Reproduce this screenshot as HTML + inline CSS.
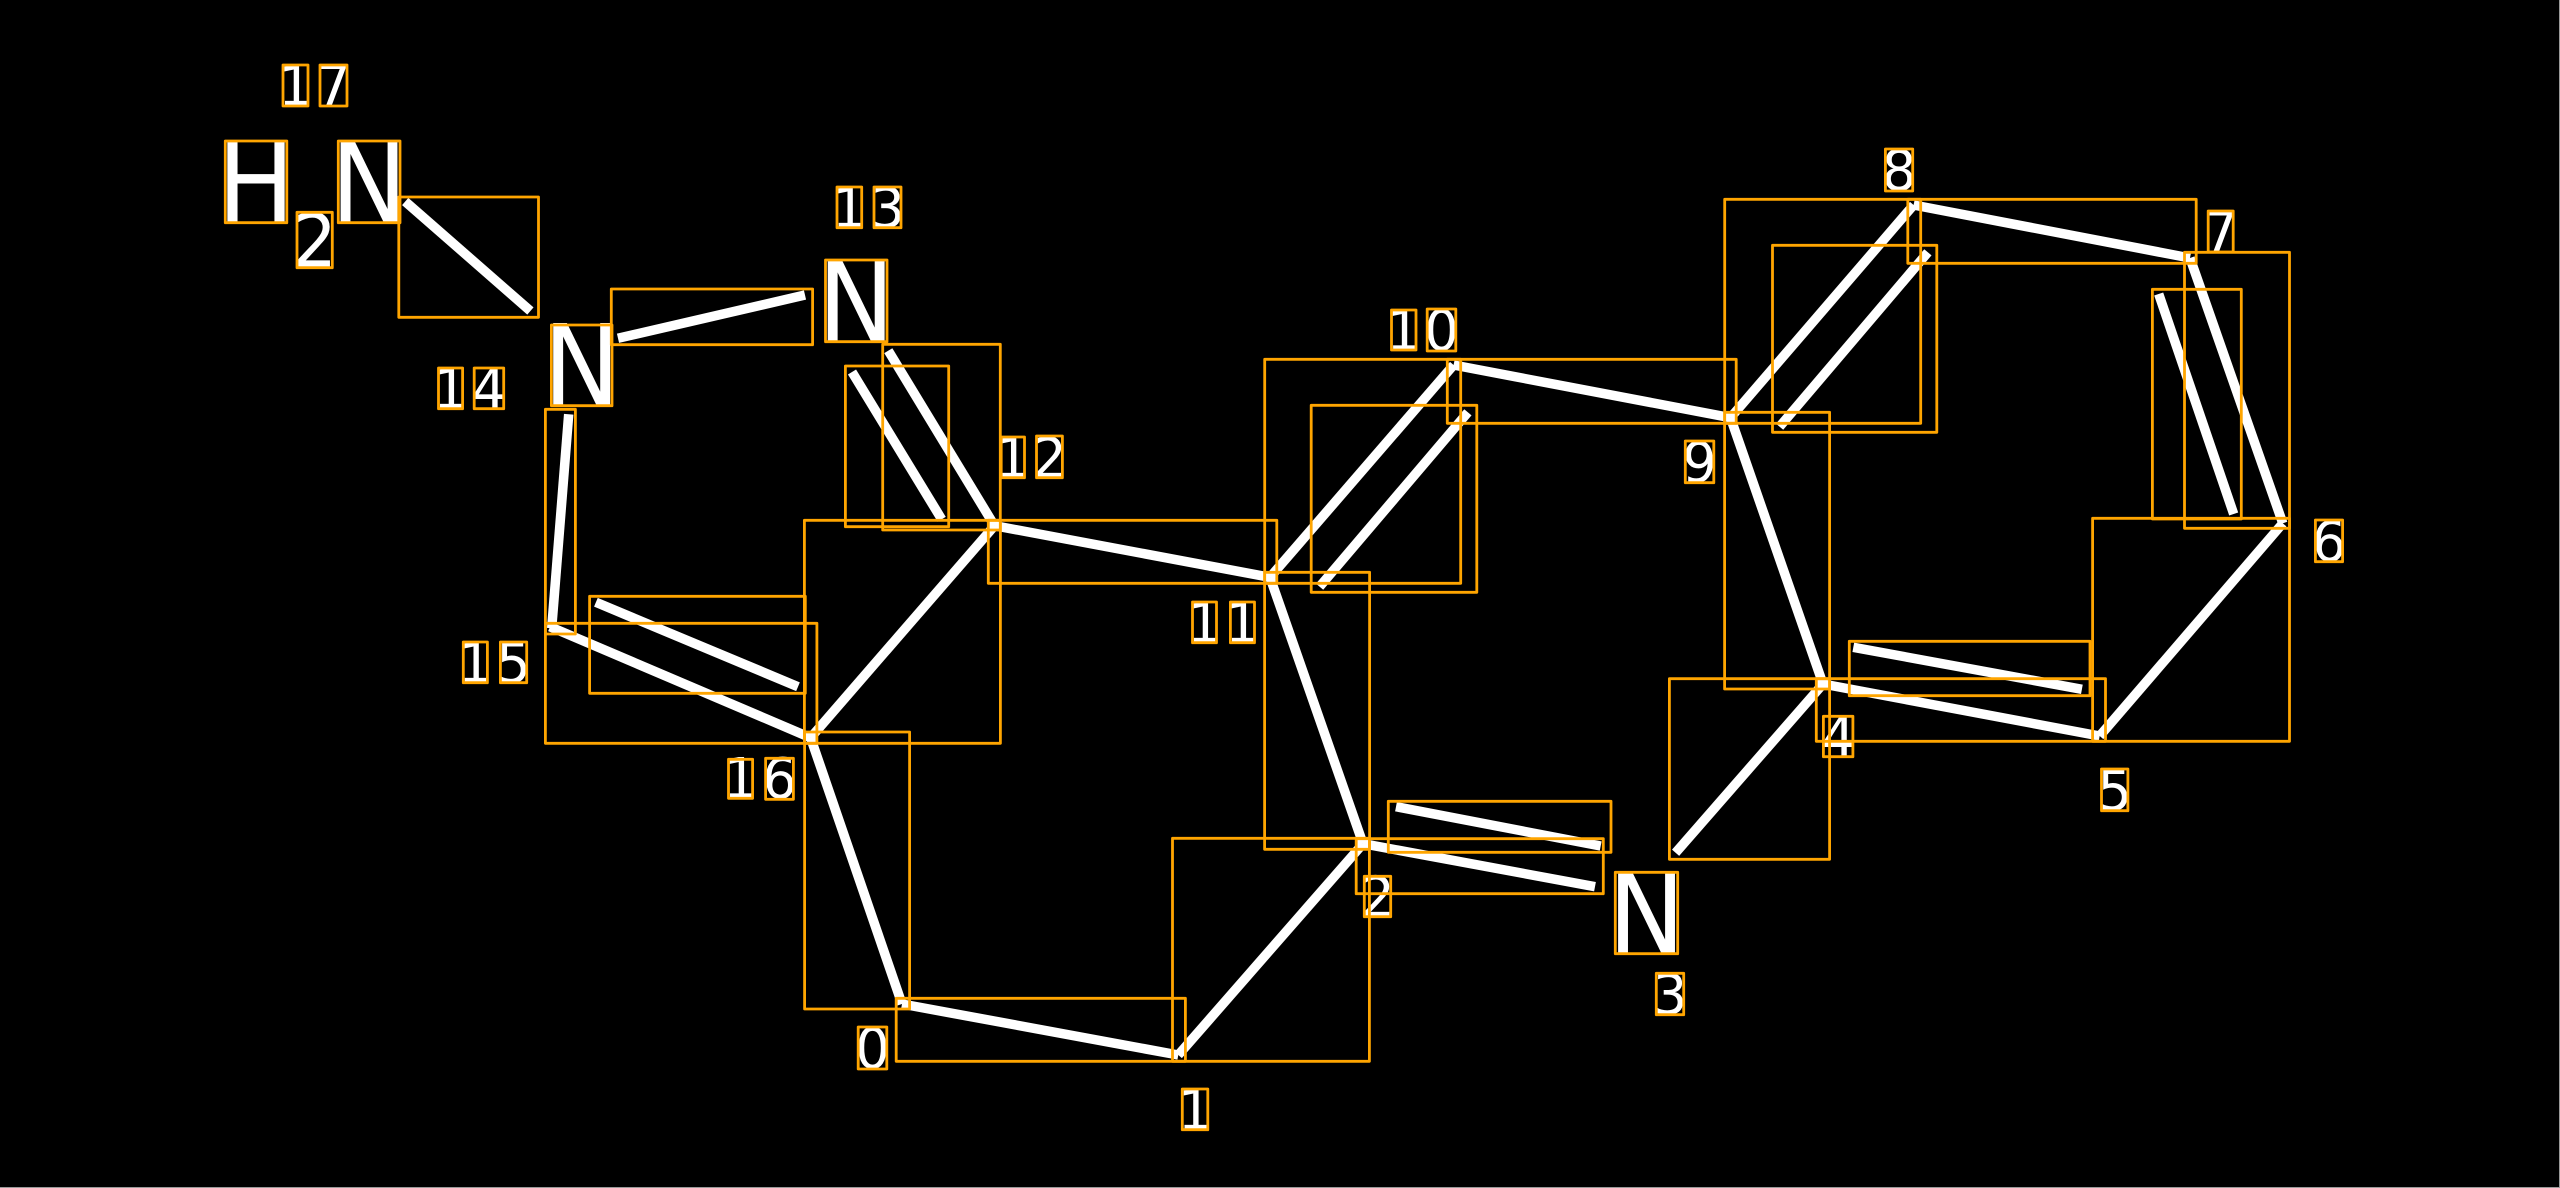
<!DOCTYPE html>
<html><head><meta charset="utf-8"><style>
html,body{margin:0;padding:0;background:#000;width:2560px;height:1188px;overflow:hidden}
svg{display:block}
text{font-family:"DejaVu Sans",sans-serif;fill:#fff;text-anchor:middle}
.d{font-size:56px}.b{font-size:112px}
</style></head><body>
<svg width="2560" height="1188" viewBox="0 0 2560 1188" xmlns="http://www.w3.org/2000/svg">
<rect width="2560" height="1188" fill="#000"/>
<rect x="2559" y="0" width="1" height="1188" fill="#999"/>
<rect x="0" y="1187" width="2560" height="1" fill="#999"/>
<g stroke="#fff" stroke-width="9.5" fill="none" stroke-linecap="butt">
<line x1="902" y1="1004" x2="1178.3" y2="1055"/>
<line x1="1178.3" y1="1055" x2="1363" y2="843.7"/>
<line x1="1363" y1="843.7" x2="1595" y2="886.7"/>
<line x1="1396" y1="806.7" x2="1600.7" y2="846"/>
<line x1="1675.6" y1="852.7" x2="1823" y2="684"/>
<line x1="1823" y1="684" x2="2099.7" y2="736"/>
<line x1="1853.3" y1="647.3" x2="2081.9" y2="689.3"/>
<line x1="2099.7" y1="736" x2="2282.8" y2="523.3"/>
<line x1="2282.8" y1="523.3" x2="2190" y2="258"/>
<line x1="2158.7" y1="294" x2="2233.7" y2="514"/>
<line x1="2190" y1="258" x2="1913.6" y2="205"/>
<line x1="1913.6" y1="205" x2="1730.5" y2="417.7"/>
<line x1="1927.9" y1="252.3" x2="1779.6" y2="426.7"/>
<line x1="1730.5" y1="417.7" x2="1823" y2="684"/>
<line x1="1730.5" y1="417.7" x2="1453.6" y2="365"/>
<line x1="1453.6" y1="365" x2="1270" y2="577.3"/>
<line x1="1467.9" y1="412.3" x2="1319.6" y2="586.7"/>
<line x1="1270" y1="577.3" x2="1363" y2="843.7"/>
<line x1="1270" y1="577.3" x2="994.5" y2="525.7"/>
<line x1="994.5" y1="525.7" x2="888.3" y2="350.7"/>
<line x1="941.7" y1="519.3" x2="852" y2="372"/>
<line x1="994.5" y1="525.7" x2="810.6" y2="737.7"/>
<line x1="810.6" y1="737.7" x2="550" y2="626.7"/>
<line x1="798" y1="686.7" x2="595.9" y2="602.3"/>
<line x1="551.7" y1="628.3" x2="568.7" y2="414.3"/>
<line x1="618" y1="338.3" x2="805" y2="295"/>
<line x1="405.2" y1="201.5" x2="530.4" y2="311"/>
<line x1="810.6" y1="737.7" x2="902" y2="1004"/>
</g>
<g>
<text class="b" transform="translate(256,222.5) scale(.92,1)">H</text>
<text class="b" transform="translate(369.1,222.5) scale(.92,1)">N</text>
<text transform="translate(314.6,266.5) scale(.95,1)" style="font-size:74px">2</text>
<text class="b" transform="translate(581.7,405) scale(.92,1)">N</text>
<text class="b" transform="translate(856.2,341) scale(.92,1)">N</text>
<text class="b" transform="translate(1646.5,953) scale(.92,1)">N</text>
<text class="d" transform="translate(295.5,105.5) scale(.97,1)">1</text>
<text class="d" transform="translate(333.5,105.5) scale(.97,1)">7</text>
<text class="d" transform="translate(849.3,227.5) scale(.97,1)">1</text>
<text class="d" transform="translate(887.5,227.5) scale(.97,1)">3</text>
<text class="d" transform="translate(450.5,408.5) scale(.97,1)">1</text>
<text class="d" transform="translate(489,408.5) scale(.97,1)">4</text>
<text class="d" transform="translate(1012.8,477.5) scale(.97,1)">1</text>
<text class="d" transform="translate(1049.5,477.5) scale(.97,1)">2</text>
<text class="d" transform="translate(475.3,682.5) scale(.97,1)">1</text>
<text class="d" transform="translate(513.5,682.5) scale(.97,1)">5</text>
<text class="d" transform="translate(740.5,798) scale(.97,1)">1</text>
<text class="d" transform="translate(779.5,798) scale(.97,1)">6</text>
<text class="d" transform="translate(1204.5,642.5) scale(.97,1)">1</text>
<text class="d" transform="translate(1242.5,642.5) scale(.97,1)">1</text>
<text class="d" transform="translate(1403.7,350) scale(.97,1)">1</text>
<text class="d" transform="translate(1441.5,350) scale(.97,1)">0</text>
<text class="d" transform="translate(1699.5,482) scale(.97,1)">9</text>
<text class="d" transform="translate(1899,190) scale(.97,1)">8</text>
<text class="d" transform="translate(2220.7,252) scale(.97,1)">7</text>
<text class="d" transform="translate(2329,561) scale(.97,1)">6</text>
<text class="d" transform="translate(2114.7,810) scale(.97,1)">5</text>
<text class="d" transform="translate(1838.1,756.5) scale(.97,1)">4</text>
<text class="d" transform="translate(1670,1014) scale(.97,1)">3</text>
<text class="d" transform="translate(1377.5,916.5) scale(.97,1)">2</text>
<text class="d" transform="translate(872.5,1068) scale(.97,1)">0</text>
<text class="d" transform="translate(1195,1129.5) scale(.97,1)">1</text>
</g>
<g stroke="#ffa500" stroke-width="2.8" fill="none" stroke-linejoin="round">
<rect x="225.3" y="141" width="61.5" height="81.7"/>
<rect x="338.3" y="141" width="61.7" height="81.7"/>
<rect x="297" y="212.3" width="35.3" height="55.4"/>
<rect x="283" y="65" width="25" height="41"/>
<rect x="320" y="65" width="27" height="41"/>
<rect x="398.8" y="197" width="139.7" height="120.3"/>
<rect x="611.3" y="289" width="201.3" height="55.7"/>
<rect x="551.4" y="325" width="60.6" height="80.7"/>
<rect x="825.5" y="260" width="61.5" height="81.7"/>
<rect x="837" y="187" width="24.7" height="40.7"/>
<rect x="874" y="187" width="27" height="40.7"/>
<rect x="438.5" y="368" width="24.1" height="40.7"/>
<rect x="474.2" y="368" width="29.5" height="40.7"/>
<rect x="545.4" y="409.3" width="30" height="224.7"/>
<rect x="545.4" y="623.3" width="271.5" height="120"/>
<rect x="589.6" y="596.3" width="215.7" height="97"/>
<rect x="804.4" y="520.3" width="196" height="223"/>
<rect x="988.3" y="520.3" width="288.5" height="63"/>
<rect x="882.7" y="344.3" width="117.6" height="185.7"/>
<rect x="845.4" y="366" width="103.3" height="160.7"/>
<rect x="1001.2" y="437" width="23.3" height="40.7"/>
<rect x="1036.5" y="436" width="25.9" height="41.7"/>
<rect x="463.3" y="642" width="24.1" height="40.7"/>
<rect x="500.4" y="642" width="26.3" height="40.7"/>
<rect x="728.5" y="759.3" width="24.1" height="39"/>
<rect x="765.6" y="758.3" width="27.8" height="41"/>
<rect x="804.6" y="732" width="105" height="277"/>
<rect x="896.2" y="998.3" width="289.2" height="63"/>
<rect x="1172.5" y="838.3" width="196.9" height="223"/>
<rect x="1264.6" y="572.3" width="105" height="277"/>
<rect x="1356.2" y="838.7" width="247.1" height="55"/>
<rect x="1388.3" y="801.3" width="222.7" height="51"/>
<rect x="1615.3" y="872.3" width="62.4" height="81.4"/>
<rect x="1656.3" y="973.3" width="27.4" height="41.4"/>
<rect x="1364.3" y="876.3" width="26.4" height="40.4"/>
<rect x="858.2" y="1027" width="28.6" height="42"/>
<rect x="1182.3" y="1089" width="25.5" height="40.7"/>
<rect x="1669.4" y="678.7" width="160.2" height="180.6"/>
<rect x="1724.6" y="412.3" width="105" height="276.7"/>
<rect x="1816.3" y="678.7" width="289.2" height="62.6"/>
<rect x="1849.3" y="641.3" width="240.7" height="54.4"/>
<rect x="2092.6" y="518.3" width="196.9" height="223"/>
<rect x="1823.4" y="716.3" width="29.5" height="40.4"/>
<rect x="2101.5" y="769" width="26.4" height="41.7"/>
<rect x="2315.4" y="520" width="27.2" height="41.7"/>
<rect x="1724.7" y="199.3" width="196" height="224"/>
<rect x="1907.8" y="199.3" width="288.4" height="64"/>
<rect x="2184.5" y="252.3" width="105" height="276"/>
<rect x="2152.4" y="289.3" width="88.9" height="229.7"/>
<rect x="1772.5" y="245.3" width="164.3" height="187"/>
<rect x="1447.3" y="359.3" width="288.9" height="64"/>
<rect x="1264.7" y="359.3" width="196" height="224"/>
<rect x="1311.2" y="405.3" width="165.6" height="187"/>
<rect x="1391.5" y="310" width="24.5" height="40"/>
<rect x="1427.2" y="309" width="28.6" height="42"/>
<rect x="1192.5" y="602" width="24" height="40.7"/>
<rect x="1230.4" y="602" width="24.1" height="40.7"/>
<rect x="1685.3" y="441" width="28.5" height="41.7"/>
<rect x="1885.4" y="149" width="27.3" height="42"/>
<rect x="2208.2" y="211" width="25" height="41"/>
</g>
</svg>
</body></html>
